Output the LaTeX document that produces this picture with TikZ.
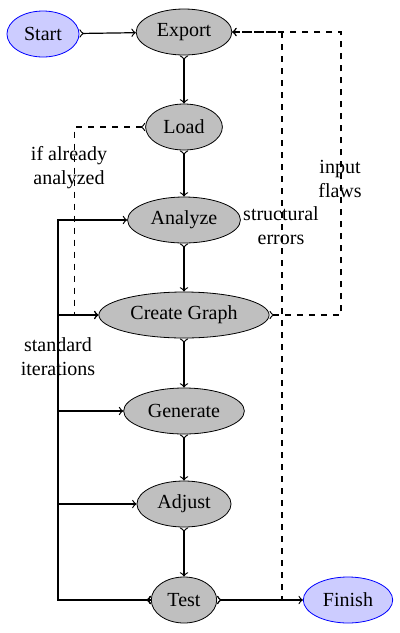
\documentclass[tikz,border=0pt]{standalone}
\usepackage{fontspec}
\setmainfont{Liberation Serif}
\usetikzlibrary{shapes,arrows,positioning}

\begin{document}
\begin{tikzpicture}[x=0.5pt,y=-0.5pt,
  stage/.style={ellipse,draw,fill=gray!50,minimum height=23pt,inner sep=3.3pt},
  ends/.style={ellipse,draw=blue,fill=blue!20,minimum height=23pt,inner sep=3.3pt},
  flow/.style={>->,semithick},
  note/.style={align=center,inner sep=0pt}]
\useasboundingbox (0,0) rectangle (400,633);
\node[ends] at (43,34) (start) {Start};
\node[stage] at (184,32) (export) {Export};
\node[stage] at (184,127) (load) {Load};
\node[stage] at (184,220) (analyze) {Analyze};
\node[stage] at (184,315) (graph) {Create Graph};
\node[stage] at (184,411) (generate) {Generate};
\node[stage] at (184,504) (adjust) {Adjust};
\node[stage] at (184,600) (test) {Test};
\node[ends] at (348,600) (finish) {Finish};

\coordinate (loop) at (58,600);
\coordinate (flawtop) at (341,32);
\coordinate (errtop) at (282,32);

\draw[flow] (start) -- (export);
\draw[flow] (export) -- (load);
\draw[flow] (load) -- (analyze);
\draw[flow] (analyze) -- (graph);
\draw[flow] (graph) -- (generate);
\draw[flow] (generate) -- (adjust);
\draw[flow] (adjust) -- (test);
\draw[flow] (test) -- (finish);

% feedback
\draw[flow,dashed] (load.west) -| ([xshift=-12pt]graph.west) -- (graph.west);
\draw[flow,dashed] (graph.east) -| (flawtop) -- (export.east);
\draw[flow,dashed] (test.east) -| (errtop) -- (export.east);
\draw[thick] (test.west) -- (loop) -- (loop |- analyze.west);
\draw[flow] (test.west) -- (loop) |- (analyze.west);
\draw[flow] (test.west) -- (loop) |- (graph.west);
\draw[flow] (test.west) -- (loop) |- (generate.west);
\draw[flow] (test.west) -- (loop) |- (adjust.west);

\node[note] at (69,168) {if already\\analyzed};
\node[note] at (340,179) {input\\flaws};
\node[note] at (281,226) {structural\\errors};
\node[note] at (58,357) {standard\\iterations};
\end{tikzpicture}
\end{document}
